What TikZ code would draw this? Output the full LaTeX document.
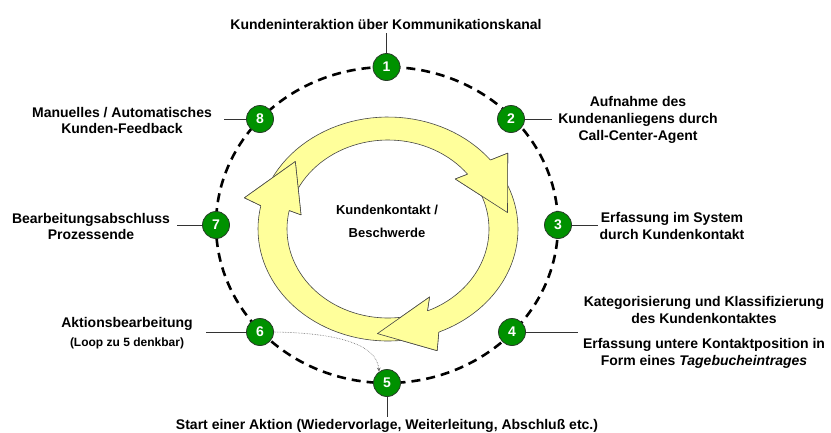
\documentclass[tikz,border=0pt]{standalone}
\usepackage{fontspec}
\setmainfont{Liberation Sans}
\usetikzlibrary{arrows.meta}
\definecolor{numgreen}{RGB}{0,145,0}
\definecolor{numedge}{RGB}{40,60,40}
\definecolor{ringyellow}{RGB}{255,255,155}
\definecolor{ringedge}{RGB}{70,70,70}
\newcommand{\yarrow}[5]{%
  \path[ringshape] plot[domain=#1:#2, samples=40, variable=\t] ({388+130*cos(\t)},{229+112*sin(\t)})
   -- ({388+148*cos(#4)},{229+129*sin(#4)})
   -- ({388+121*cos(#5)},{229+105*sin(#5)})
   -- ({388+88.5*cos(#3)},{229+77*sin(#3)})
   -- plot[domain=#2:#1, samples=40, variable=\t] ({388+101*cos(\t)},{229+89*sin(\t)}) -- cycle;}
\newcommand{\yhead}[4]{%
  \fill[ringyellow] ({388+130*cos(#1)},{229+112*sin(#1)})
   -- ({388+148*cos(#3)},{229+129*sin(#3)})
   -- ({388+121*cos(#4)},{229+105*sin(#4)})
   -- ({388+88.5*cos(#2)},{229+77*sin(#2)})
   -- ({388+101*cos(#1)},{229+89*sin(#1)}) -- cycle;
  \draw[ringedge, line width=0.6pt, line join=round] ({388+130*cos(#1)},{229+112*sin(#1)})
   -- ({388+148*cos(#3)},{229+129*sin(#3)})
   -- ({388+121*cos(#4)},{229+105*sin(#4)})
   -- ({388+88.5*cos(#2)},{229+77*sin(#2)})
   -- ({388+101*cos(#1)},{229+89*sin(#1)});}
\begin{document}
\begin{tikzpicture}[x=1pt, y=-1pt,
  num/.style={circle, fill=numgreen, draw=numedge, line width=0.8pt, minimum size=27pt, inner sep=0pt, text=white, font=\bfseries\fontsize{14}{14}\selectfont},
  lbl/.style={align=center, inner sep=0pt, font=\bfseries\fontsize{14}{17}\selectfont},
  leader/.style={draw=black!80, line width=0.8pt},
  ringshape/.style={fill=ringyellow, draw=ringedge, line width=0.6pt, line join=round},
  cycledash/.style={draw=black, line width=2.6pt, dash pattern=on 9pt off 6pt}]
\useasboundingbox (0,0) rectangle (831,432);

% dashed cycle
\draw[cycledash] (387,225) ellipse [x radius=171, y radius=158];

% yellow ring arrows
\yarrow{200}{322}{319.5}{324}{351}
\yarrow{327}{427}{422}{430.6}{455}
\yarrow{77}{192}{190.6}{194}{220}
\yhead{322}{319.5}{324}{351}
\yhead{427}{422}{430.6}{455}
\yhead{192}{190.6}{194}{220}

\node[align=center, inner sep=0pt, font=\bfseries\fontsize{13}{23}\selectfont] (center) at (387,221.5) {Kundenkontakt /\\Beschwerde};

% numbered nodes
\node[num] (n1) at (386.5,67) {1};
\node[num] (n2) at (511,119) {2};
\node[num] (n3) at (558,225) {3};
\node[num] (n4) at (512,332) {4};
\node[num] (n5) at (387,383) {5};
\node[num] (n6) at (260,332) {6};
\node[num] (n7) at (216,225) {7};
\node[num] (n8) at (260,119) {8};

% labels
\node[lbl] (t1) at (386,24) {Kundeninteraktion über Kommunikationskanal};
\node[lbl] (t2) at (638,120) {Aufnahme des\\Kundenanliegens durch\\Call-Center-Agent};
\node[lbl] (t3) at (672,226) {Erfassung im System\\durch Kundenkontakt};
\node[lbl] (t4a) at (704,310) {Kategorisierung und Klassifizierung\\des Kundenkontaktes};
\node[lbl] (t4b) at (704,353.5) {Erfassung untere Kontaktposition in\\Form eines \textit{Tagebucheintrages}};
\node[lbl] (t5) at (387,426) {Start einer Aktion (Wiedervorlage, Weiterleitung, Abschluß etc.)};
\node[lbl] (t6) at (127,324) {Aktionsbearbeitung};
\node[lbl, font=\bfseries\fontsize{12}{14}\selectfont] (t6b) at (127,343) {(Loop zu 5 denkbar)};
\node[lbl, font=\bfseries\fontsize{14}{16}\selectfont] (t7) at (91,226) {Bearbeitungsabschluss\\Prozessende};
\node[lbl, font=\bfseries\fontsize{14}{16}\selectfont] (t8) at (122,120) {Manuelles / Automatisches\\Kunden-Feedback};

% leader lines
\coordinate (c1) at (386.5,33);
\coordinate (c2) at (552,119);
\coordinate (c3) at (598,225);
\coordinate (c4) at (578,332);
\coordinate (c5) at (387,417);
\coordinate (c6) at (206,332);
\coordinate (c7) at (177,225);
\coordinate (c8) at (224,119);
\draw[leader] (n1) -- (c1);
\draw[leader] (n2) -- (c2);
\draw[leader] (n3) -- (c3);
\draw[leader] (n4) -- (c4);
\draw[leader] (n5) -- (c5);
\draw[leader] (n6) -- (c6);
\draw[leader] (n7) -- (c7);
\draw[leader] (n8) -- (c8);

% loop arrow 6 -> 5
\draw[black!60, line width=0.6pt, densely dotted, -{Stealth[length=4pt, width=3.5pt]}] (n6.east) .. controls (340,333) and (377,345) .. (n5.125);
\end{tikzpicture}
\end{document}
